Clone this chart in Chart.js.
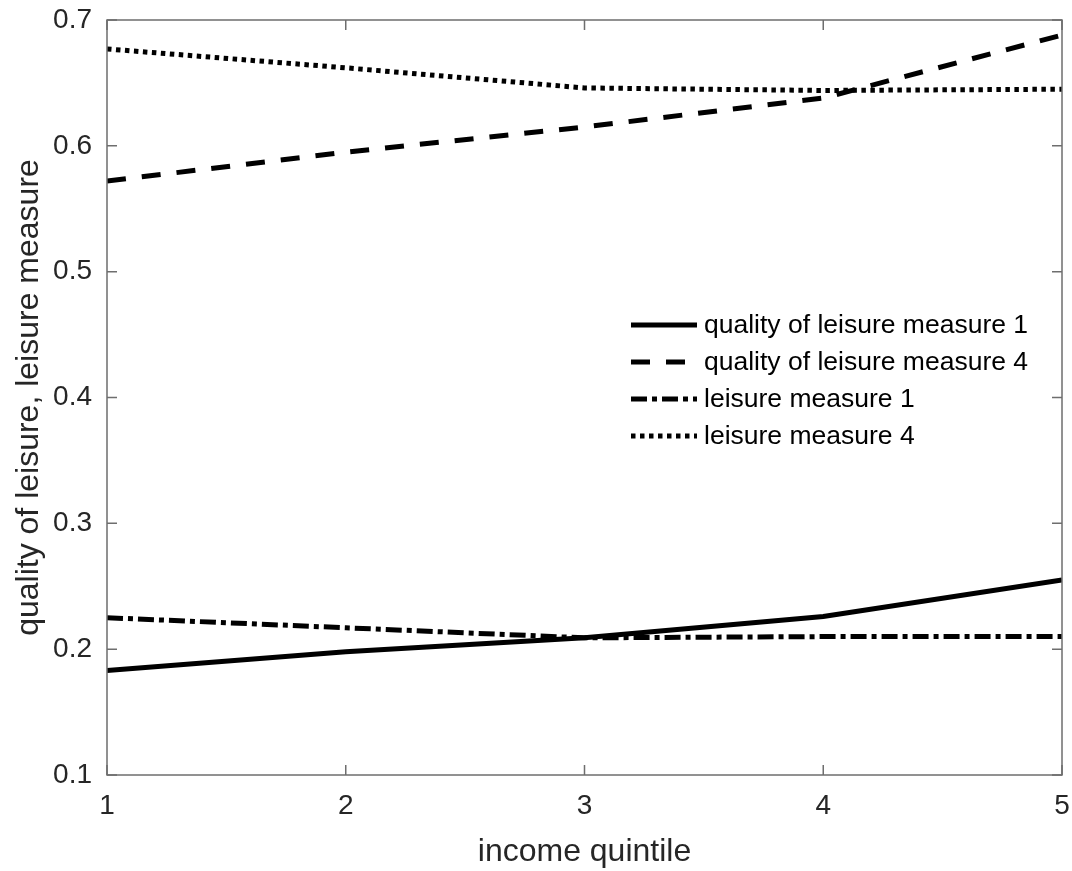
<!DOCTYPE html>
<html>
<head>
<meta charset="utf-8">
<script src="https://cdn.jsdelivr.net/npm/chart.js@4.4.1/dist/chart.umd.min.js"></script>
<style>
  html, body { margin: 0; padding: 0; background: #fff; }
</style>
</head>
<body>
<canvas id="chart" width="1072" height="871"></canvas>
<script>
// data
const quintiles = [1, 2, 3, 4, 5];
const qualityMeasure1 = [0.183, 0.198, 0.209, 0.226, 0.255];
const qualityMeasure4 = [0.572, 0.595, 0.615, 0.638, 0.688];
const leisureMeasure1 = [0.225, 0.217, 0.209, 0.210, 0.210];
const leisureMeasure4 = [0.677, 0.662, 0.646, 0.644, 0.645];
const seriesLabels = [
  "quality of leisure measure 1",
  "quality of leisure measure 4",
  "leisure measure 1",
  "leisure measure 4"
];

const FONT = "'Liberation Sans', Arial, Helvetica, sans-serif";
const AXIS_GRAY = "#6e6e6e";
const TEXT = "#262626";

function toPoints(values) {
  return quintiles.map((q, i) => ({ x: q, y: values[i] }));
}

function makeSet(label, values, dash) {
  return {
    label: label,
    data: toPoints(values),
    borderColor: "#000",
    borderWidth: 5,
    borderDash: dash,
    borderCapStyle: "butt",
    pointRadius: 0,
    tension: 0,
    fill: false
  };
}

/*******************************************************
 * box + inward ticks on all four sides (matlab look)
 *******************************************************/
const boxPlugin = {
  id: "boxPlugin",
  afterDraw(chart) {
    const { ctx, chartArea: a, scales } = chart;
    const tl = 10;
    ctx.save();
    ctx.strokeStyle = AXIS_GRAY;
    ctx.lineWidth = 1.5;
    ctx.setLineDash([]);
    ctx.strokeRect(a.left, a.top, a.right - a.left, a.bottom - a.top);
    ctx.beginPath();
    scales.x.ticks.forEach(t => {
      const px = scales.x.getPixelForValue(t.value);
      ctx.moveTo(px, a.bottom); ctx.lineTo(px, a.bottom - tl);
      ctx.moveTo(px, a.top); ctx.lineTo(px, a.top + tl);
    });
    scales.y.ticks.forEach(t => {
      const py = scales.y.getPixelForValue(t.value);
      ctx.moveTo(a.left, py); ctx.lineTo(a.left + tl, py);
      ctx.moveTo(a.right, py); ctx.lineTo(a.right - tl, py);
    });
    ctx.stroke();
    ctx.restore();
  }
};

/*******************************************************
 * legend drawn inside the axes, no frame
 *******************************************************/
const legendPlugin = {
  id: "insideLegend",
  afterDraw(chart) {
    const { ctx } = chart;
    const x0 = 631, x1 = 697, tx = 704;
    let y = 325;
    ctx.save();
    ctx.font = "26.5px " + FONT;
    ctx.textBaseline = "middle";
    ctx.textAlign = "left";
    chart.data.datasets.forEach(ds => {
      ctx.strokeStyle = ds.borderColor;
      ctx.lineWidth = ds.borderWidth;
      ctx.lineCap = "butt";
      ctx.setLineDash(ds.borderDash || []);
      ctx.beginPath();
      ctx.moveTo(x0, y);
      ctx.lineTo(x1, y);
      ctx.stroke();
      ctx.fillStyle = "#000";
      ctx.fillText(ds.label, tx, y + 1);
      y += 37;
    });
    ctx.restore();
  }
};

new Chart(document.getElementById("chart"), {
  type: "line",
  data: {
    datasets: [
      makeSet(seriesLabels[0], qualityMeasure1, []),
      makeSet(seriesLabels[1], qualityMeasure4, [19, 16]),
      makeSet(seriesLabels[2], leisureMeasure1, [16, 5, 5, 5]),
      makeSet(seriesLabels[3], leisureMeasure4, [4.5, 4.5])
    ]
  },
  options: {
    responsive: false,
    animation: false,
    devicePixelRatio: 1,
    layout: { padding: { top: 20, right: 10, left: 0, bottom: 0 } },
    plugins: {
      legend: { display: false },
      tooltip: { enabled: false }
    },
    scales: {
      x: {
        type: "linear",
        min: 1,
        max: 5,
        grid: { display: false, drawTicks: false },
        border: { display: false },
        ticks: {
          stepSize: 1,
          padding: 14,
          color: TEXT,
          font: { family: FONT, size: 28 }
        },
        title: {
          display: true,
          text: "income quintile",
          color: TEXT,
          padding: { top: 0, bottom: 0 },
          font: { family: FONT, size: 32 }
        },
        afterFit(scale) {
          scale.height = 96;
          scale.paddingLeft = 0;
          scale.paddingRight = 0;
        }
      },
      y: {
        min: 0.1,
        max: 0.7,
        grid: { display: false, drawTicks: false },
        border: { display: false },
        ticks: {
          stepSize: 0.1,
          padding: 15,
          color: TEXT,
          font: { family: FONT, size: 28 },
          callback: v => v.toFixed(1)
        },
        title: {
          display: true,
          text: "quality of leisure, leisure measure",
          color: TEXT,
          padding: { top: 10, bottom: 0 },
          font: { family: FONT, size: 32 }
        },
        afterFit(scale) {
          scale.width = 107;
          scale.paddingTop = 0;
          scale.paddingBottom = 0;
        }
      }
    }
  },
  plugins: [boxPlugin, legendPlugin]
});
</script>
</body>
</html>
